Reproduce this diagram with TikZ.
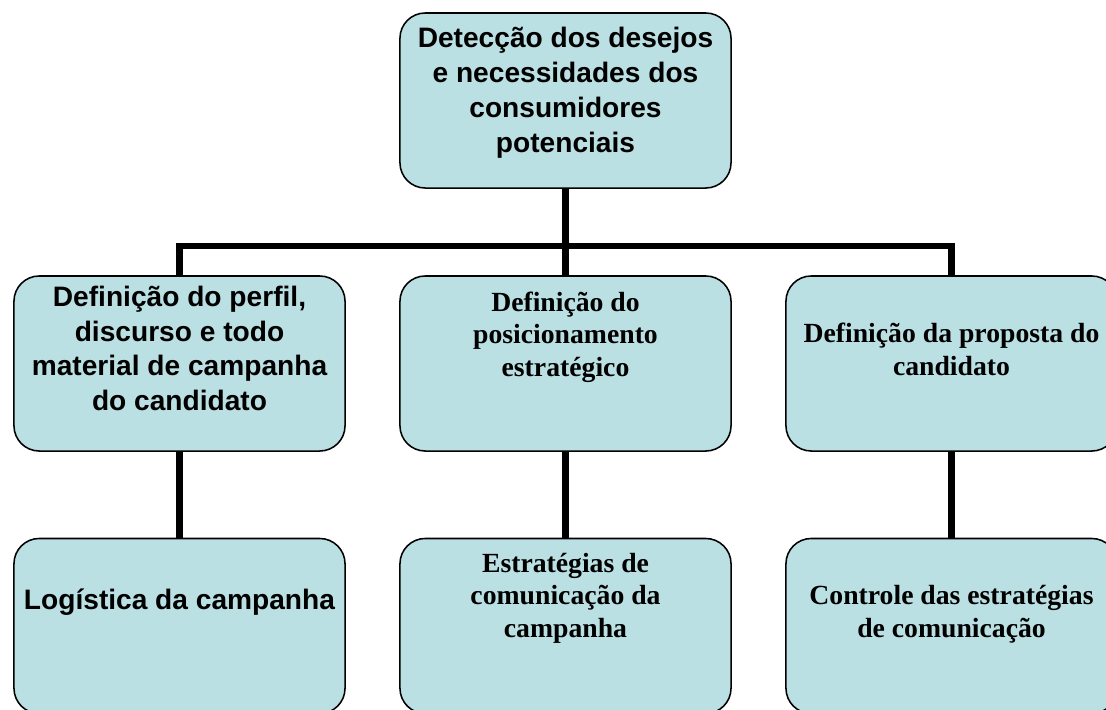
\documentclass[tikz,border=0pt]{standalone}
\usepackage{fontspec}
\setmainfont{Liberation Serif}
\setsansfont{Liberation Sans}
\usepackage{xcolor}
\usetikzlibrary{positioning}
\definecolor{boxblue}{RGB}{187,224,227}

\begin{document}
\begin{tikzpicture}[x=0.025cm, y=-0.025cm,
				box/.style={draw=black, line width=1.1pt, fill=boxblue,
					rounded corners=18pt, minimum width=8.275cm,
					minimum height=4.375cm, inner sep=0pt},
				sanstext/.style={font=\sffamily\bfseries\fontsize{20}{24.7}\selectfont,
					align=center, inner sep=0pt, anchor=base},
				seriftext/.style={font=\bfseries\fontsize{19.7}{22.8}\selectfont,
					align=center, inner sep=0pt, anchor=base},
				link/.style={line width=4.3pt, black}]
				\useasboundingbox (0,0) rectangle (1106,710);
				\node at (565.5,100.5) (top) [box] {};
				\node at (179.5,363.5) (l1) [box] {};
				\node at (565.5,363.5) (m1) [box] {};
				\node at (951.5,363.5) (r1) [box] {};
				\node at (179.5,626) (l2) [box] {};
				\node at (565.5,626) (m2) [box] {};
				\node at (951.5,626) (r2) [box] {};
				\coordinate (bar) at (565.5,246);
				\draw[link] (top.south) -- (bar);
				\draw[link] (l1.north) |- (bar) -| (r1.north);
				\draw[link] (bar) -- (m1.north);
				\draw[link] (l1.south) -- (l2.north);
				\draw[link] (m1.south) -- (m2.north);
				\draw[link] (r1.south) -- (r2.north);
				\node at (565.5,152) (toptext) [sanstext] {Detecção dos desejos\\ e necessidades dos\\ consumidores\\ potenciais};
				\node at (179.5,410.5) (l1text) [sanstext] {Definição do perfil,\\ discurso e todo\\ material de campanha\\ do candidato};
				\node at (565.5,376) (m1text) [seriftext] {Definição do\\ posicionamento\\ estratégico};
				\node at (951.5,375) (r1text) [seriftext] {Definição da proposta do\\ candidato};
				\node at (179.5,609) (l2text) [sanstext] {Logística da campanha};
				\node at (565.5,637) (m2text) [seriftext] {Estratégias de\\ comunicação da\\ campanha};
				\node at (951.5,637) (r2text) [seriftext] {Controle das estratégias\\ de comunicação};
			\end{tikzpicture}
\end{document}
